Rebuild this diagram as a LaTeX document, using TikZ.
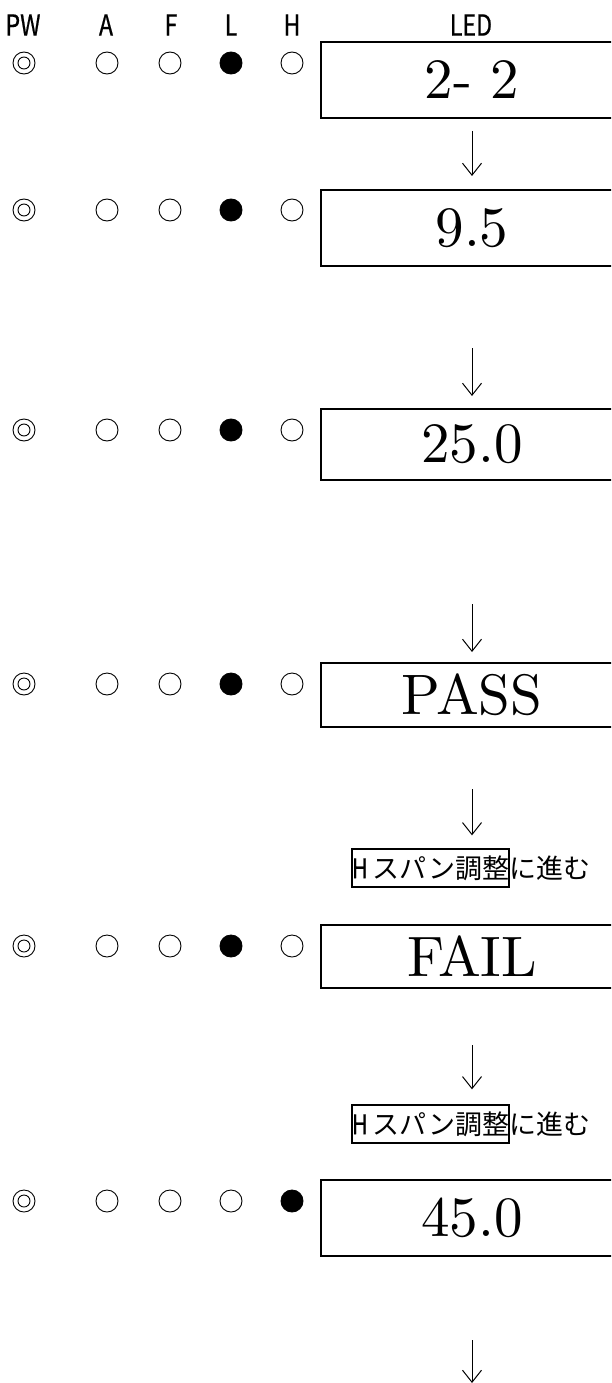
\documentclass[tikz,border=0pt]{standalone}
\usepackage{fontspec}
\usetikzlibrary{arrows.meta}
\newfontfamily\jpfont{Noto Sans CJK JP}
\newfontfamily\hwfont[FakeStretch=0.8, FakeBold=0.6]{Noto Sans CJK JP}
\newfontfamily\lmten{lmroman10-regular.otf}
\tikzset{
  ledbox/.style={draw, line width=2pt, minimum width=302pt, inner sep=0pt,
    font=\lmten\fontsize{57}{60}\selectfont},
  hdr/.style={inner sep=0pt, font=\hwfont\fontsize{29}{30}\selectfont},
  lamp/.style={circle, draw, line width=0.9pt, minimum size=22pt, inner sep=0pt},
  lampon/.style={lamp, fill=black},
  arr/.style={-{Straight Barb[length=12pt,width=19pt]}, line width=1pt},
  jptag/.style={draw, line width=1.3pt, inner sep=0pt, minimum height=38pt,
    minimum width=153pt, font=\jpfont\fontsize{27}{30}\selectfont},
  jptext/.style={inner sep=0pt, font=\jpfont\fontsize{27}{30}\selectfont}
}
\newcommand\lamprow[4]{%
  \node[lamp] (pw#1) at (24,#2) {};
  \draw[line width=0.9pt] (pw#1.center) circle (6pt);
  \node[lamp] (a#1) at (107,#2) {};
  \node[lamp] (f#1) at (170,#2) {};
  \node[#3] (l#1) at (231,#2) {};
  \node[#4] (h#1) at (292,#2) {};
}
\begin{document}
\begin{tikzpicture}[x=1pt,y=-1pt]
\useasboundingbox (0,0) rectangle (611,1383);
\clip (0,0) rectangle (611,1383);
% header
\node[hdr] (hpw) at (23,25) {PW};
\node[hdr] (ha) at (106,25) {A};
\node[hdr] (hf) at (171,25) {F};
\node[hdr] (hl) at (231,25) {L};
\node[hdr] (hh) at (292,25) {H};
\node[hdr] (hled) at (471,25) {LED};
% lamp rows
\lamprow{1}{63}{lampon}{lamp}
\lamprow{2}{210}{lampon}{lamp}
\lamprow{3}{430}{lampon}{lamp}
\lamprow{4}{684}{lampon}{lamp}
\lamprow{5}{946}{lampon}{lamp}
\lamprow{6}{1201}{lamp}{lampon}
% LED boxes
\node[ledbox, minimum height=76pt] (b1) at (472,80) {2- 2};
\node[ledbox, minimum height=76pt] (b2) at (472,228) {9.5};
\node[ledbox, minimum height=71pt] (b3) at (472,444.5) {25.0};
\node[ledbox, minimum height=64pt] (b4) at (472,695) {PASS};
\node[ledbox, minimum height=63pt] (b5) at (472,956.5) {FAIL};
\node[ledbox, minimum height=76pt] (b6) at (472,1218) {45.0};
% tags
\node[jptag] (t1) at (430.5,868) {{\hwfont H}\hspace{5pt}スパン調整};
\node[jptext, anchor=west] (t1b) at (t1.east) {に進む};
\node[jptag] (t2) at (430.5,1124) {{\hwfont H}\hspace{5pt}スパン調整};
\node[jptext, anchor=west] (t2b) at (t2.east) {に進む};
% arrows
\coordinate (s2) at (472,348);
\coordinate (s3) at (472,604);
\coordinate (s4) at (472,789);
\coordinate (s5) at (472,1045);
\coordinate (s6) at (472,1340);
\coordinate (e6) at (472,1383);
\draw[arr, shorten <=12pt, shorten >=13pt] (b1.south) -- (b2.north);
\draw[arr, shorten >=12pt] (s2) -- (b3.north);
\draw[arr, shorten >=10pt] (s3) -- (b4.north);
\draw[arr, shorten >=13pt] (s4) -- (s4 |- t1.north);
\draw[arr, shorten >=15pt] (s5) -- (s5 |- t2.north);
\draw[arr] (s6) -- (e6);
\end{tikzpicture}
\end{document}
